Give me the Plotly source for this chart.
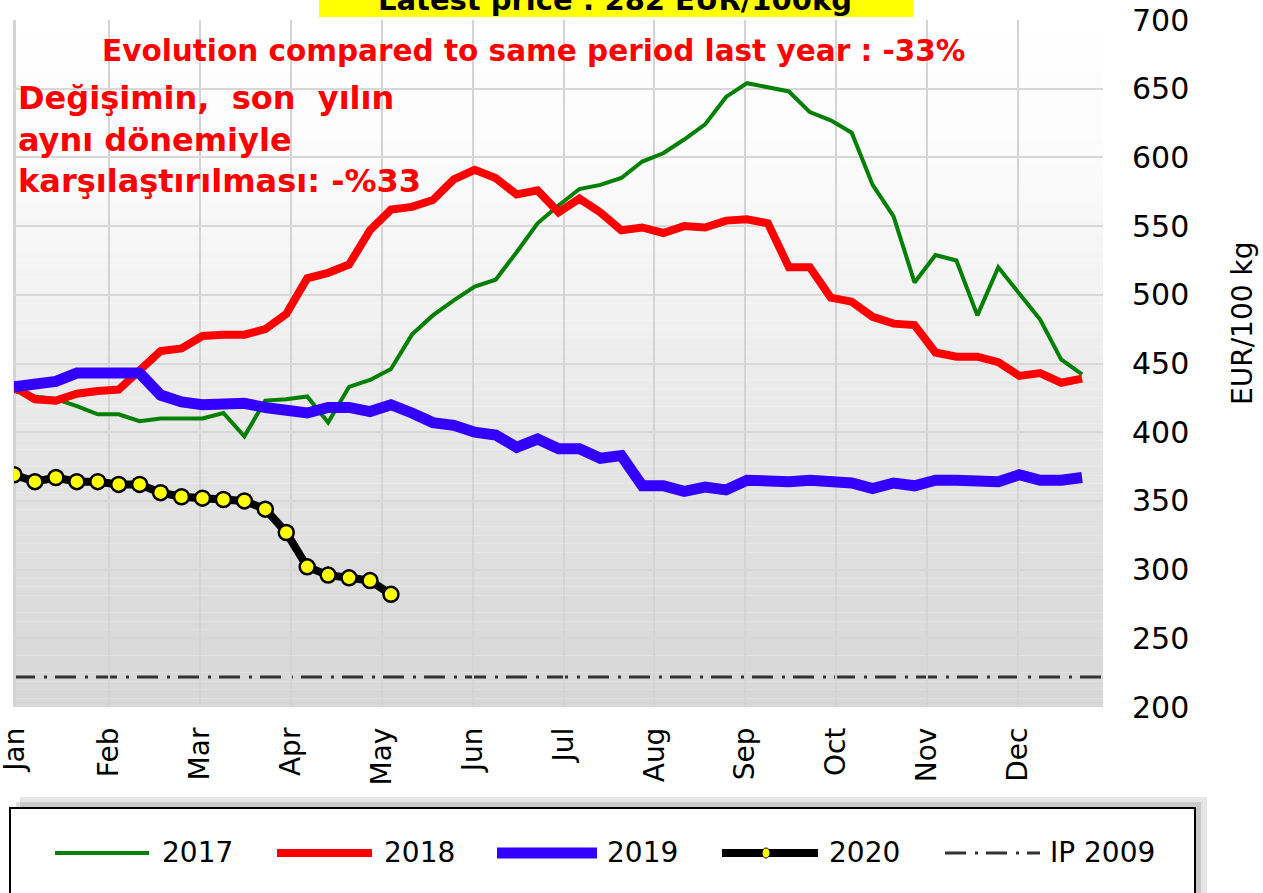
import plotly.graph_objects as go
import numpy as np

# ---------------- data ----------------
weeks = list(range(1, 53))
months = ["Jan", "Feb", "Mar", "Apr", "May", "Jun", "Jul", "Aug", "Sep", "Oct", "Nov", "Dec"]

p2017 = [430, 426, 424, 419, 413, 413, 408, 410, 410, 410, 414, 397, 423, 424, 426, 407,
         433, 438, 446, 471, 485, 496, 506, 511, 531, 552, 565, 577, 580, 585, 597, 603,
         613, 624, 644, 654, 651, 648, 633, 627, 618, 580, 557, 509, 529, 525, 485, 520,
         501, 482, 453, 442]
p2018 = [433, 424, 423, 428, 430, 431, 445, 459, 461, 470, 471, 471, 475, 486, 512, 516,
         522, 547, 562, 564, 569, 584, 591, 585, 573, 576, 560, 570, 560, 547, 549, 545,
         550, 549, 554, 555, 552, 520, 520, 498, 495, 484, 479, 478, 458, 455, 455, 451,
         441, 443, 436, 439]
p2019 = [433, 434, 437, 443, 443, 443, 443, 427, 422, 420, 421, 421, 418, 416, 414, 418,
         418, 415, 420, 414, 407, 405, 400, 398, 389, 395, 388, 388, 381, 383, 361, 361,
         357, 360, 358, 365, 364, 364, 365, 365, 363, 359, 363, 361, 365, 365, 365, 364,
         369, 365, 365, 367]
p2020 = [369, 364, 367, 364, 364, 362, 362, 356, 353, 352, 351, 350, 344, 327, 302, 296,
         294, 292, 282]
ip_2009 = 221.75
latest_price = 282
evolution_pct = -33

# ---------------- layout helpers (pixels -> paper) ----------------
W, H = 1263, 893
PL, PT, PR, PB = 14, 20, 1103, 707
PW, PH = PR - PL, PB - PT


def fx(px):
    return (px - PL) / PW


def fy(py):
    return (PB - py) / PH


fig = go.Figure()

fig.add_trace(go.Scatter(x=weeks, y=p2017, mode="lines", name="2017",
                         line=dict(color="#008000", width=4)))
fig.add_trace(go.Scatter(x=weeks, y=p2018, mode="lines", name="2018",
                         line=dict(color="#ff0000", width=8)))
fig.add_trace(go.Scatter(x=weeks, y=p2019, mode="lines", name="2019",
                         line=dict(color="#3300ff", width=11)))
fig.add_trace(go.Scatter(x=weeks[:len(p2020)], y=p2020, mode="lines+markers", name="2020",
                         line=dict(color="#000000", width=8),
                         marker=dict(size=15, color="#ffff00",
                                     line=dict(color="#000000", width=2.5))))

shapes = []
# plot background gradient
stops_t = [0.0, 0.2, 0.35, 0.64, 0.9, 1.0]
stops_v = [255, 251, 245, 229, 218, 216]
nb = 80
for i in range(nb):
    t = (i + 0.5) / nb
    v = int(round(np.interp(t, stops_t, stops_v)))
    shapes.append(dict(type="rect", xref="paper", yref="paper", layer="below",
                       x0=0, x1=1, y0=1 - (i + 1) / nb, y1=1 - i / nb,
                       fillcolor=f"rgb({v},{v},{v})", line=dict(width=0)))
shapes.append(dict(type="line", xref="paper", yref="paper", layer="below",
                   x0=0, x1=0, y0=0, y1=1, line=dict(color="#d4d4d4", width=2)))
# IP 2009 reference line
shapes.append(dict(type="line", xref="paper", yref="y", layer="between",
                   x0=0, x1=1, y0=ip_2009, y1=ip_2009,
                   line=dict(color="#333333", width=3, dash="21px,9px,3px,8px")))
# yellow title box (cut off at top)
shapes.append(dict(type="rect", xref="paper", yref="paper",
                   x0=fx(319), x1=fx(913), y0=fy(17), y1=fy(-30),
                   fillcolor="#ffff00", line=dict(width=0)))
# legend box with shadow
shapes.append(dict(type="rect", xref="paper", yref="paper",
                   x0=fx(20), x1=fx(1207), y0=fy(920), y1=fy(797),
                   fillcolor="rgba(0,0,0,0.10)", line=dict(width=0)))
shapes.append(dict(type="rect", xref="paper", yref="paper",
                   x0=fx(16), x1=fx(1201), y0=fy(920), y1=fy(802),
                   fillcolor="rgba(0,0,0,0.12)", line=dict(width=0)))
shapes.append(dict(type="rect", xref="paper", yref="paper",
                   x0=fx(10), x1=fx(1195), y0=fy(920), y1=fy(808),
                   fillcolor="#ffffff", line=dict(color="#000000", width=2)))
ly = fy(853)
leg_items = [
    ("2017", 55, 149, dict(color="#008000", width=4), 160),
    ("2018", 277, 372, dict(color="#ff0000", width=8), 382),
    ("2019", 497, 597, dict(color="#3300ff", width=11), 605),
    ("2020", 722, 818, dict(color="#000000", width=8), 827),
    ("IP 2009", 945, 1040, dict(color="#333333", width=3, dash="21px,9px,3px,8px"), 1048),
]
annotations = []
for label, x0, x1, ln, tx in leg_items:
    shapes.append(dict(type="line", xref="paper", yref="paper",
                       x0=fx(x0), x1=fx(x1), y0=ly, y1=ly, line=ln))
    annotations.append(dict(text=label, xref="paper", yref="paper", x=fx(tx), y=ly,
                            xanchor="left", yanchor="middle", showarrow=False,
                            font=dict(family="DejaVu Sans", size=28, color="#000000")))
shapes.append(dict(type="circle", xref="paper", yref="paper",
                   x0=fx(766 - 4), x1=fx(766 + 4), y0=fy(853 + 5), y1=fy(853 - 5),
                   fillcolor="#ffff00", line=dict(color="#000000", width=1)))

annotations += [
    dict(text=f"<b>Latest price : {latest_price} EUR/100kg</b>", xref="paper", yref="paper",
         x=fx(615), y=fy(19), xanchor="center", yanchor="bottom", showarrow=False,
         font=dict(family="DejaVu Sans", size=29, color="#000000")),
    dict(text=f"<b>Evolution compared to same period last year : {evolution_pct}%</b>",
         xref="paper", yref="paper", x=fx(533), y=fy(51), xanchor="center", yanchor="middle",
         showarrow=False, font=dict(family="DejaVu Sans", size=29.5, color="#ff0000")),
    dict(text="<b>Değişimin,\u00a0 son\u00a0 yılın<br>aynı dönemiyle<br>"
              f"karşılaştırılması: -%{abs(evolution_pct)}</b>",
         xref="paper", yref="paper", x=fx(16), y=fy(77), xanchor="left", yanchor="top",
         align="left", showarrow=False,
         font=dict(family="DejaVu Sans", size=32, color="#ff0000")),
    dict(text="EUR/100 kg", xref="paper", yref="paper", x=fx(1243), y=fy(324),
         xanchor="center", yanchor="middle", textangle=-90, showarrow=False,
         font=dict(family="DejaVu Sans", size=28, color="#000000")),
]

tickvals = [1.05] + [1.2 + 4.34 * m for m in range(1, 12)]

fig.update_layout(
    width=W, height=H,
    margin=dict(l=PL, r=W - PR, t=PT, b=H - PB, autoexpand=False),
    paper_bgcolor="#ffffff", plot_bgcolor="#ffffff",
    showlegend=False,
    shapes=shapes,
    annotations=annotations,
    xaxis=dict(range=[1, 53], tickmode="array", tickvals=tickvals, ticktext=months,
               tickangle=-90, showgrid=True, gridcolor="#d4d4d4", gridwidth=2,
               zeroline=False, showline=False, ticks="", ticklabelstandoff=14,
               ticklabeloverflow="allow",
               tickfont=dict(family="DejaVu Sans", size=28, color="#000000")),
    yaxis=dict(range=[200, 700], side="right", tick0=200, dtick=50, showgrid=True,
               gridcolor="#d8d8d8", gridwidth=2, zeroline=False, showline=False,
               ticks="", ticklabelstandoff=28,
               tickfont=dict(family="DejaVu Sans", size=30, color="#000000")),
)

fig.write_html("out.html", config={"displayModeBar": False},
               post_script="document.body.style.margin='0px';document.body.style.overflow='hidden';")
